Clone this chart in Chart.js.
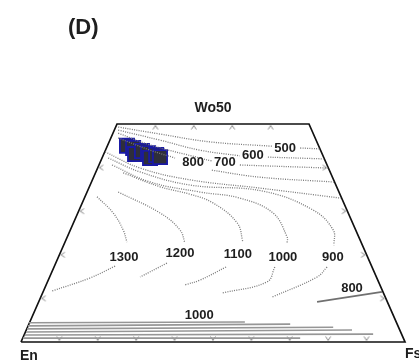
<!DOCTYPE html>
<html>
<head>
<meta charset="utf-8">
<script src="https://cdn.jsdelivr.net/npm/chart.js@4"></script>
<style>
  html, body { margin: 0; background: #fff; }
  #wrap { width: 419px; height: 364px; }
</style>
</head>
<body>
<div id="wrap"><canvas id="pyxChart"></canvas></div>
<script>
// quadrilateral: x = position along En-Fs (0-100), y = Wo (0-50)
const frame = [[0, 0], [100, 0], [75, 50], [25, 50], [0, 0]];

// upper isotherms (dotted), split where the label sits
const iso500 = [[25.3, 49.3], [36.2, 47.7], [49.2, 45.9], [65.4, 44.9]];
const iso500b = [[72.7, 44.5], [77.7, 44.3]];
const iso600 = [[25.3, 48.6], [36.2, 46.3], [46.6, 44.0], [57.0, 42.7]];
const iso600b = [[64.3, 42.4], [78.8, 42.0]];
const iso700 = [[25.3, 47.9], [33.6, 45.2], [46.6, 42.2], [49.7, 41.5]];
const iso700b = [[57.0, 40.6], [79.9, 39.9]];
const iso800 = [[25.3, 46.8], [33.6, 44.0], [40.1, 42.2]];
const iso800b = [[49.7, 39.4], [62.2, 37.8], [81.5, 36.7]];
const isoExtra = [[21.9, 43.6], [31.0, 39.9], [44.0, 37.2], [62.2, 35.3], [83.3, 33.0]];

// curved isotherms, upper part
const iso900 = [[22.7, 42.2], [31.0, 39.0], [44.0, 36.0], [63.0, 34.6], [76.0, 30.3], [81.3, 25.7], [81.5, 22.2]];
const iso1000 = [[23.7, 40.6], [33.6, 36.7], [46.6, 34.4], [57.0, 33.0], [65.6, 29.6], [69.3, 24.1], [69.3, 22.7]];
const iso1100 = [[26.6, 38.8], [36.2, 35.6], [44.0, 33.9], [50.0, 31.9], [56.3, 27.3], [57.8, 22.9]];
const iso1200 = [[25.3, 34.4], [36.2, 29.6], [41.4, 25.7], [42.7, 22.7]];
const iso1300 = [[19.8, 33.3], [24.0, 29.6], [26.6, 25.7], [27.6, 22.9]];

// curved isotherms, lower part
const low900 = [[79.7, 17.2], [77.1, 14.9], [65.4, 10.3]];
const low1000 = [[66.1, 17.2], [64.1, 13.8], [52.3, 11.2]];
const low1100 = [[53.4, 17.2], [46.6, 14.2], [42.7, 13.1]];
const low1200 = [[38.0, 18.1], [31.0, 14.9]];
const low1300 = [[24.5, 17.4], [18.0, 14.7], [8.1, 11.7]];

// low-Ca isotherms (solid)
const opx800 = [[77.1, 9.2], [94.0, 11.5]];
const opxLines = [
  [[2.1, 4.4], [58.3, 4.6]],
  [[1.8, 3.7], [70.1, 4.1]],
  [[1.6, 3.0], [81.3, 3.4]],
  [[1.3, 2.3], [86.2, 2.75]],
  [[1.0, 1.6], [91.7, 1.8]],
  [[0.5, 0.9], [72.7, 0.9]]
];

// analysed pyroxenes
const sampleX = [27.6, 29.2, 29.7, 31.5, 33.1, 33.6, 35.2, 36.2];
const sampleY = [45.0, 44.5, 43.1, 43.8, 43.3, 42.2, 42.9, 42.4];

// edge ticks
const topTicks = [35, 45, 55, 65];
const bottomTicks = [10, 20, 30, 40, 50, 60, 70, 80, 90];
const sideTicks = [10, 20, 30, 40];

// labels
const isoLabels = ["500", "600", "700", "800", "1300", "1200", "1100", "1000", "900", "800", "1000"];
const isoLabelX = [68.8, 60.4, 53.1, 44.8, 26.8, 41.4, 56.5, 68.2, 81.2, 86.2, 46.4];
const isoLabelY = [44.5, 42.7, 41.3, 41.1, 19.5, 20.4, 20.0, 19.5, 19.5, 12.2, 6.2];

const toXY = arr => arr.map(p => ({ x: p[0], y: p[1] }));

function dotted(arr) {
  return {
    data: toXY(arr), showLine: true, pointRadius: 0, borderColor: "#7a7a7a",
    borderWidth: 1.3, borderDash: [1, 1.3], tension: 0.4, clip: false
  };
}

function solid(arr, color) {
  return {
    data: toXY(arr), showLine: true, pointRadius: 0, borderColor: color,
    borderWidth: 1.6, tension: 0, clip: false
  };
}

function chevron() {
  let c = document.createElement("canvas");
  c.width = 14; c.height = 14;
  let g = c.getContext("2d");
  g.strokeStyle = "#8c8c8c";
  g.lineWidth = 1;
  g.beginPath();
  g.moveTo(4.5, 12.5); g.lineTo(7, 8.5); g.lineTo(9.5, 12.5);
  g.stroke();
  return c;
}
const chev = chevron();

function ticks(points, rot) {
  return {
    data: points, showLine: false, pointStyle: chev, pointRadius: 7,
    rotation: rot, clip: false
  };
}

let datasets = [];
[iso500, iso500b, iso600, iso600b, iso700, iso700b, iso800, iso800b, isoExtra,
 iso900, iso1000, iso1100, iso1200, iso1300,
 low900, low1000, low1100, low1200, low1300].forEach(a => datasets.push(dotted(a)));
opxLines.forEach(a => datasets.push(solid(a, "#969696")));
datasets.push(solid(opx800, "#707070"));

datasets.push(ticks(topTicks.map(v => ({ x: v, y: 50 })), 0));
datasets.push(ticks(bottomTicks.map(v => ({ x: v, y: 0 })), 180));
datasets.push(ticks(sideTicks.map(v => ({ x: v / 2, y: v })), -90));
datasets.push(ticks(sideTicks.map(v => ({ x: 100 - v / 2, y: v })), 90));

datasets.push({
  data: toXY(frame), showLine: true, pointRadius: 0, borderColor: "#111",
  borderWidth: 1.7, clip: false
});

datasets.push({
  data: sampleX.map((v, i) => ({ x: v, y: sampleY[i] })), showLine: false,
  pointStyle: "rect", pointRadius: 10, backgroundColor: "#2e2e3a",
  borderColor: "#1a1aa6", borderWidth: 1.8, clip: false
});

const textPlugin = {
  id: "texts",
  afterDatasetsDraw(chart) {
    const { ctx, scales: { x, y } } = chart;
    ctx.save();
    ctx.fillStyle = "#1e1e1e";
    ctx.textBaseline = "middle";
    ctx.textAlign = "center";
    ctx.font = 'bold 13px "Liberation Sans", Arial, sans-serif';
    isoLabels.forEach((t, i) => {
      ctx.fillText(t, x.getPixelForValue(isoLabelX[i]), y.getPixelForValue(isoLabelY[i]));
    });
    ctx.font = 'bold 14px "Liberation Sans", Arial, sans-serif';
    ctx.fillText("Wo50", x.getPixelForValue(50), y.getPixelForValue(50) - 16);
    ctx.textAlign = "left";
    ctx.fillText("En", x.getPixelForValue(0) - 1, y.getPixelForValue(0) + 14);
    ctx.fillText("Fs", x.getPixelForValue(100), y.getPixelForValue(0) + 12);
    ctx.font = 'bold 22px "Liberation Sans", Arial, sans-serif';
    ctx.fillText("(D)", 68, 28);
    ctx.restore();
  }
};

new Chart(document.getElementById("pyxChart"), {
  type: "scatter",
  data: { datasets: datasets },
  options: {
    responsive: true,
    maintainAspectRatio: false,
    animation: false,
    events: [],
    layout: { padding: { left: 21, right: 14, top: 124, bottom: 22 } },
    plugins: { legend: { display: false }, tooltip: { enabled: false } },
    scales: {
      x: { type: "linear", min: 0, max: 100, display: false },
      y: { type: "linear", min: 0, max: 50, display: false }
    }
  },
  plugins: [textPlugin]
});
</script>
</body>
</html>
